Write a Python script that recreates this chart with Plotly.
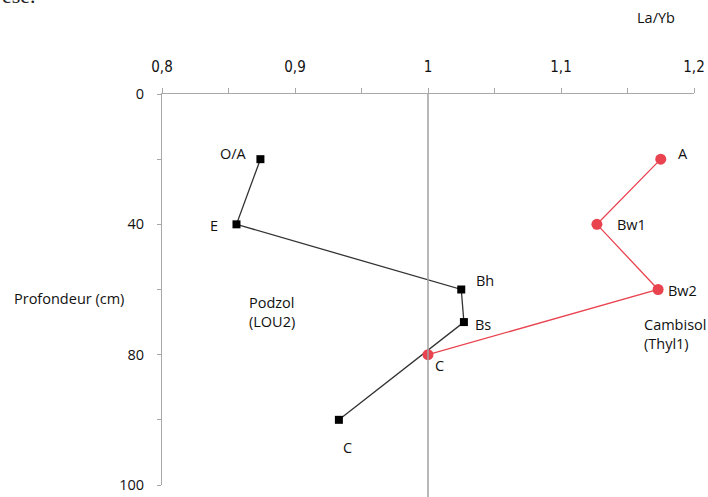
import plotly.graph_objects as go

# ---- data ----
podzol_horizons = ["O/A", "E", "Bh", "Bs", "C"]
podzol_depth = [20, 40, 60, 70, 90]          # cm
podzol_layb = [0.874, 0.856, 1.025, 1.027, 0.933]

cambisol_horizons = ["A", "Bw1", "Bw2", "C"]
cambisol_depth = [20, 40, 60, 80]            # cm
cambisol_layb = [1.175, 1.127, 1.173, 1.0]

x_tickvals = [0.8, 0.9, 1.0, 1.1, 1.2]
depth_ticks = [0, 40, 80, 100]
depth_minor = [20, 60, 90]

# depth axis of the original: 20 cm per step down to 80 cm, then 10 cm per step
def depth_pos(d):
    return d if d <= 80 else 80 + (d - 80) * 2

FONT = "Open Sans, Noto Sans, sans-serif"
NARROW = "Liberation Sans Narrow, DejaVu Sans Condensed, sans-serif"
RED = "#e9434f"
FS = 14.5

fig = go.Figure()
fig.add_trace(go.Scatter(
    x=podzol_layb, y=[depth_pos(d) for d in podzol_depth],
    mode="lines+markers",
    line=dict(color="#333333", width=1.3),
    marker=dict(symbol="square", size=8, color="#000000"),
    cliponaxis=False, showlegend=False, hoverinfo="skip"))
fig.add_trace(go.Scatter(
    x=cambisol_layb, y=[depth_pos(d) for d in cambisol_depth],
    mode="lines+markers",
    line=dict(color=RED, width=1.3),
    marker=dict(symbol="circle", size=11, color=RED),
    cliponaxis=False, showlegend=False, hoverinfo="skip"))

# point labels (offsets in pixels)
podzol_shift = [(-27, 6), (-22, -1), (24, 9), (19, -2), (9, -28)]
cambisol_shift = [(22, 6), (35, 0), (24, -1), (11, -11)]
for name, x, d, (dx, dy) in zip(podzol_horizons, podzol_layb, podzol_depth, podzol_shift):
    fig.add_annotation(x=x, y=depth_pos(d), text=name, showarrow=False,
                       xshift=dx, yshift=dy, font=dict(family=FONT, size=FS, color="#111"))
for name, x, d, (dx, dy) in zip(cambisol_horizons, cambisol_layb, cambisol_depth, cambisol_shift):
    fig.add_annotation(x=x, y=depth_pos(d), text=name, showarrow=False,
                       xshift=dx, yshift=dy, font=dict(family=FONT, size=FS, color="#111"))

# reference line at La/Yb = 1
fig.add_shape(type="line", xref="x", yref="paper", x0=1.0, x1=1.0, y0=1, y1=-0.04,
              line=dict(color="#a0a0a0", width=1.5))

# soil names
fig.add_annotation(xref="paper", yref="paper", x=(247 - 162) / 532, y=1 - (312 - 94) / 391,
                   text="Podzol<br>(LOU2)", showarrow=False, xanchor="left", yanchor="middle",
                   align="left", font=dict(family=FONT, size=FS, color="#111"))
fig.add_annotation(xref="paper", yref="paper", x=(642 - 162) / 532, y=1 - (334 - 94) / 391,
                   text="Cambisol<br>(Thyl1)", showarrow=False, xanchor="left", yanchor="middle",
                   align="left", font=dict(family=FONT, size=FS, color="#111"))
# axis titles
fig.add_annotation(xref="paper", yref="paper", x=(12 - 162) / 532, y=1 - (298 - 94) / 391,
                   text="Profondeur (cm)", showarrow=False, xanchor="left", yanchor="middle",
                   font=dict(family=FONT, size=FS, color="#111"))
fig.add_annotation(xref="paper", yref="paper", x=(656 - 162) / 532, y=1 + (94 - 17) / 391,
                   text="La/Yb", showarrow=False, xanchor="center", yanchor="middle",
                   font=dict(family=FONT, size=FS, color="#111"))
# cropped text from the source page
fig.add_annotation(xref="paper", yref="paper", x=(0 - 162) / 532, y=1 + (94 - 10) / 391,
                   text="èse.", showarrow=False, xanchor="left", yanchor="bottom",
                   font=dict(family="Liberation Serif, serif", size=22, color="#222"))

fig.update_layout(
    width=708, height=497,
    margin=dict(l=162, r=14, t=94, b=12, autoexpand=False),
    paper_bgcolor="white", plot_bgcolor="white",
    separators=", ",
    xaxis=dict(side="top", range=[0.8, 1.2], tickvals=x_tickvals, automargin=False,
               showgrid=False, zeroline=False,
               showline=True, linecolor="#a8a8a8", linewidth=1,
               ticks="outside", ticklen=5, tickcolor="#a8a8a8", ticklabelstandoff=10,
               minor=dict(dtick=0.05, tick0=0.8, ticks="outside", ticklen=5, tickcolor="#a8a8a8",
                          showgrid=False),
               tickfont=dict(family=NARROW, size=15, color="#111")),
    yaxis=dict(range=[depth_pos(100), 0], automargin=False,
               tickvals=[depth_pos(d) for d in depth_ticks],
               ticktext=[str(d) for d in depth_ticks],
               showgrid=False, zeroline=False,
               showline=True, linecolor="#a8a8a8", linewidth=1,
               ticks="outside", ticklen=4, tickcolor="#a8a8a8", ticklabelstandoff=10,
               minor=dict(tickvals=[depth_pos(d) for d in depth_minor], ticks="outside",
                          ticklen=4, tickcolor="#a8a8a8", showgrid=False),
               tickfont=dict(family=FONT, size=FS, color="#111")),
)

fig.write_html("out.html", config={"displayModeBar": False},
               post_script="document.body.style.margin='0';")
